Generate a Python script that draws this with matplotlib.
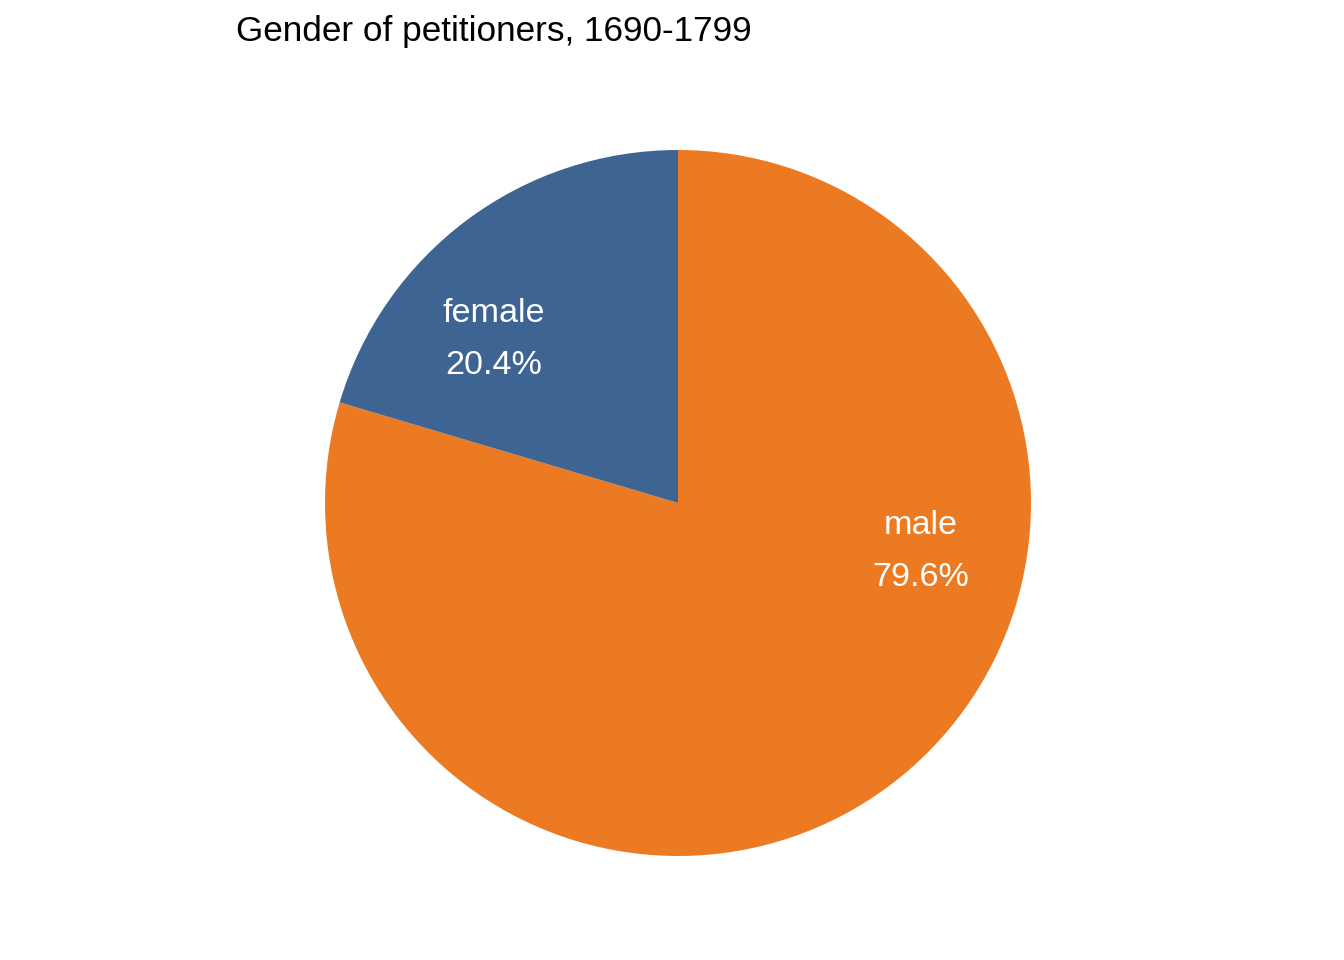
import matplotlib
matplotlib.use("Agg")
import matplotlib.pyplot as plt

categories = ["male", "female"]
shares = [79.6, 20.4]
colors = ["#EC7A23", "#3E6494"]
title = "Gender of petitioners, 1690-1799"

W, H = 1344, 960
fig = plt.figure(figsize=(W / 100, H / 100), dpi=100)
ax = fig.add_axes([0, 0, 1, 1])

cx, cy, R = 678, H - 503, 353
ax.pie(shares, colors=colors, startangle=90, counterclock=False,
       center=(cx, cy), radius=R, frame=True,
       wedgeprops=dict(linewidth=0))
ax.set_xlim(0, W)
ax.set_ylim(0, H)
ax.set_aspect("equal")
ax.axis("off")

fam = ["Liberation Sans", "DejaVu Sans"]
label_pos = {"male": (921, 551), "female": (494, 339)}
for cat, val in zip(categories, shares):
    x, y = label_pos[cat]
    ax.text(x, H - y + 26, cat, ha="center", va="center", color="white",
            fontsize=24.6, family=fam)
    ax.text(x, H - y - 26, f"{val:.1f}%", ha="center", va="center", color="white",
            fontsize=24.6, family=fam)

fig.text(236 / W, 1 - 31 / H, title, ha="left", va="center", color="black",
         fontsize=25.3, family=fam)

fig.savefig("out.png", dpi=100, facecolor="white")
